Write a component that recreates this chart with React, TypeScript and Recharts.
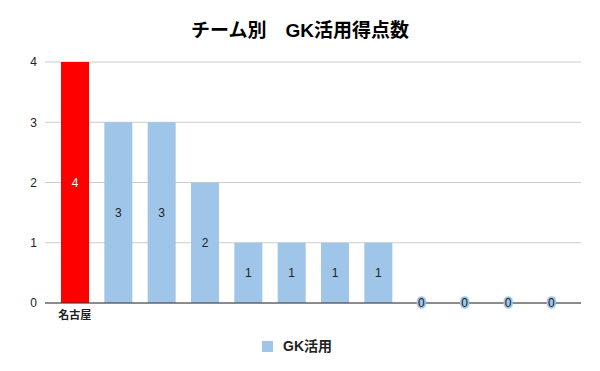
import { Bar, CartesianGrid, Cell, ComposedChart, LabelList, Legend, Scatter, XAxis, YAxis } from 'recharts';

// チーム別 GK活用得点数 (only the first team is labelled in the source)
const teams = ['名古屋', '', '', '', '', '', '', '', '', '', '', ''];
const goals = [4, 3, 3, 2, 1, 1, 1, 1, 0, 0, 0, 0];
const yTicks = [0, 1, 2, 3, 4];
const seriesName = 'GK活用';
const title = 'チーム別　GK活用得点数';

const RED = '#ff0000';
const BLUE = '#9fc5e8';
const FONT = "Arial, 'Liberation Sans', 'Noto Sans CJK JP', sans-serif";

// zero-height bars get no label from Recharts, so those values are marked by a scatter
const rows = teams.map((team, i) => ({ team, goals: goals[i], zero: goals[i] === 0 ? 0 : null }));

function haloText(x: number, y: number, value: any, hi: boolean) {
  return (
    <text
      x={x}
      y={y}
      dy="0.35em"
      textAnchor="middle"
      fontSize={12}
      fill={hi ? '#ffffff' : '#222222'}
      stroke={hi ? RED : BLUE}
      strokeWidth={3.5}
      strokeLinejoin="round"
      paintOrder="stroke"
    >
      {String(value)}
    </text>
  );
}

function ValueLabel(props: any) {
  const { x, y, width, height, value, index } = props;
  return haloText(Number(x) + Number(width) / 2, Number(y) + Number(height) / 2, value, index === 0);
}

function ZeroLabel(props: any) {
  const { cx, cy } = props;
  if (cx == null || cy == null) return null;
  return haloText(cx, cy, 0, false);
}

export default function App() {
  return (
    <div
      style={{
        position: 'absolute',
        left: 0,
        top: 0,
        width: 600,
        height: 371,
        background: '#fff',
        fontFamily: FONT,
      }}
    >
      <div
        style={{
          position: 'absolute',
          top: 21,
          left: 0,
          width: 600,
          textAlign: 'center',
          fontSize: 19,
          lineHeight: '20px',
          fontWeight: 'bold',
          color: '#000',
        }}
      >
        {title}
      </div>
      <ComposedChart
        width={600}
        height={371}
        data={rows}
        margin={{ top: 62, right: 19, bottom: 38, left: 0 }}
      >
        <CartesianGrid vertical={false} stroke="#cccccc" />
        <XAxis
          dataKey="team"
          padding={{ left: 8, right: 8 }}
          tickLine={false}
          axisLine={{ stroke: '#333333' }}
          interval={0}
          height={30}
          tick={{ fontSize: 11, fontWeight: 'bold', fill: '#222222' }}
        />
        <YAxis
          domain={[0, 4]}
          ticks={yTicks}
          width={45}
          tickLine={false}
          axisLine={false}
          tick={{ fontSize: 12, fill: '#222222' }}
        />
        <Legend
          verticalAlign="middle"
          layout="horizontal"
          iconType="square"
          iconSize={11}
          wrapperStyle={{ top: 335, left: 2, width: 600 }}
          formatter={(value: string) => (
            <span style={{ color: '#222222', fontWeight: 'bold', fontSize: 14, marginLeft: 6 }}>{value}</span>
          )}
        />
        <Bar dataKey="goals" name={seriesName} fill={BLUE} barSize={28} isAnimationActive={false}>
          {rows.map((r, i) => (
            <Cell key={i} fill={i === 0 ? RED : BLUE} />
          ))}
          <LabelList dataKey="goals" content={<ValueLabel />} />
        </Bar>
        <Scatter
          dataKey="zero"
          legendType="none"
          shape={<ZeroLabel />}
          isAnimationActive={false}
        />
      </ComposedChart>
    </div>
  );
}
